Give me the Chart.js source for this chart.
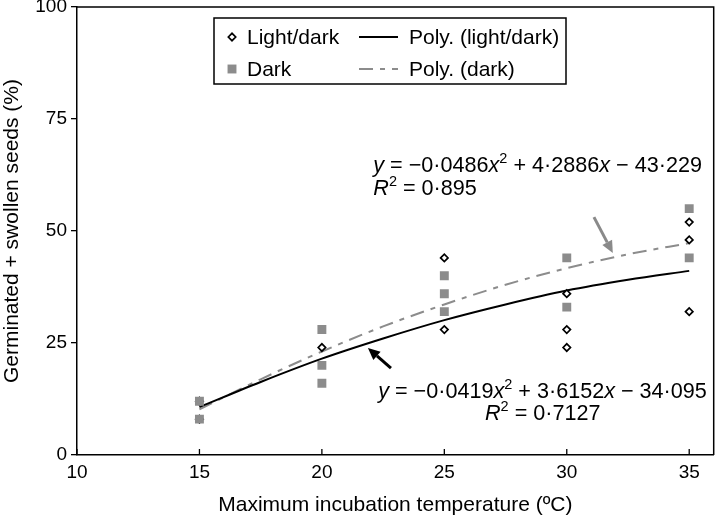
<!DOCTYPE html>
<html>
<head>
    <meta charset="utf-8" />
    <style>
        html, body { margin: 0; padding: 0; background: #fff; }
        #wrap { position: relative; width: 720px; height: 518px; }
    </style>
</head>
<body>
    <div id="wrap"><canvas id="seedChart" width="720" height="518"></canvas></div>

    <script src="https://cdn.jsdelivr.net/npm/chart.js@4.4.1/dist/chart.umd.min.js"></script>
    <script>
        // values
        const xTicks = [10, 15, 20, 25, 30, 35];
        const yTicks = [0, 25, 50, 75, 100];

        const lightDarkTemp = [15, 15, 20, 25, 25, 30, 30, 30, 35, 35, 35];
        const lightDarkPct = [12, 8, 24, 44, 28, 36, 28, 24, 52, 48, 32];

        const darkTemp = [15, 15, 20, 20, 20, 25, 25, 25, 30, 30, 35, 35];
        const darkPct = [12, 8, 28, 20, 16, 40, 36, 32, 44, 33, 55, 44];

        // trend lines, read at regular temperatures
        const fitTemp = [15, 17.5, 20, 22.5, 25, 27.5, 30, 32.5, 35];
        const fitLightDark = [10.7, 16.3, 21.5, 26.0, 30.1, 33.6, 36.7, 39.1, 41.1];
        const fitDark = [10.2, 16.9, 23.1, 28.7, 33.6, 38.0, 41.7, 44.8, 47.3];

        const FONT = "'Liberation Sans', Arial, Helvetica, sans-serif";

        function pairs(xs, ys) {
            return xs.map((x, i) => ({ x: x, y: ys[i] }));
        }

        // equations and arrows, anchored in data units
        const notes = [
            { x: 22.1, y: 63.2, runs: [['y', 'i'], [' = \u22120\u00b70486'], ['x', 'i'], ['2', 's'], [' + 4\u00b72886'], ['x', 'i'], [' \u2212 43\u00b7229']] },
            { x: 22.1, y: 58.0, runs: [['R', 'i'], ['2', 's'], [' = 0\u00b7895']] },
            { x: 22.3, y: 12.7, runs: [['y', 'i'], [' = \u22120\u00b70419'], ['x', 'i'], ['2', 's'], [' + 3\u00b76152'], ['x', 'i'], [' \u2212 34\u00b7095']] },
            { x: 26.66, y: 7.8, runs: [['R', 'i'], ['2', 's'], [' = 0\u00b77127']] }
        ];
        const arrows = [
            { x0: 31.11, y0: 53.1, x1: 31.88, y1: 45.1, color: '#8a8a8a' },
            { x0: 22.82, y0: 19.4, x1: 21.88, y1: 23.9, color: '#000' }
        ];

        function drawRuns(ctx, x, y, runs) {
            ctx.textBaseline = 'alphabetic';
            ctx.textAlign = 'left';
            runs.forEach(r => {
                let dy = 0;
                if (r[1] == 'i') ctx.font = 'italic 21.6px ' + FONT;
                else if (r[1] == 's') { ctx.font = '14.5px ' + FONT; dy = -9; }
                else ctx.font = '21.6px ' + FONT;
                ctx.fillText(r[0], x, y + dy);
                x += ctx.measureText(r[0]).width;
            });
        }

        function drawArrow(ctx, x0, y0, x1, y1, color) {
            const ang = Math.atan2(y1 - y0, x1 - x0);
            const head = 12, half = 5.5;
            const bx = x1 - head * Math.cos(ang), by = y1 - head * Math.sin(ang);
            ctx.strokeStyle = color;
            ctx.fillStyle = color;
            ctx.lineWidth = 3;
            ctx.beginPath();
            ctx.moveTo(x0, y0);
            ctx.lineTo(bx, by);
            ctx.stroke();
            ctx.beginPath();
            ctx.moveTo(x1, y1);
            ctx.lineTo(bx + half * Math.sin(ang), by - half * Math.cos(ang));
            ctx.lineTo(bx - half * Math.sin(ang), by + half * Math.cos(ang));
            ctx.closePath();
            ctx.fill();
        }

        const extras = {
            id: 'extras',
            afterDraw(chart) {
                const ctx = chart.ctx;
                const xs = chart.scales.x, ys = chart.scales.y;
                const a = chart.chartArea;
                ctx.save();

                // frame top / right
                ctx.strokeStyle = '#000';
                ctx.lineWidth = 1.5;
                ctx.beginPath();
                ctx.moveTo(a.left, a.top);
                ctx.lineTo(a.right, a.top);
                ctx.lineTo(a.right, a.bottom);
                ctx.stroke();

                // inward x ticks
                ctx.lineWidth = 1.3;
                xTicks.forEach(t => {
                    const px = xs.getPixelForValue(t);
                    ctx.beginPath();
                    ctx.moveTo(px, a.bottom);
                    ctx.lineTo(px, a.bottom - 6);
                    ctx.stroke();
                });

                ctx.fillStyle = '#000';
                notes.forEach(n => drawRuns(ctx, xs.getPixelForValue(n.x), ys.getPixelForValue(n.y), n.runs));
                arrows.forEach(r => drawArrow(ctx,
                    xs.getPixelForValue(r.x0), ys.getPixelForValue(r.y0),
                    xs.getPixelForValue(r.x1), ys.getPixelForValue(r.y1), r.color));

                // legend box
                const lx = a.left + 137, ly = a.top + 11, lw = 352, lh = 66;
                ctx.fillStyle = '#fff';
                ctx.fillRect(lx, ly, lw, lh);
                ctx.strokeStyle = '#000';
                ctx.lineWidth = 1.5;
                ctx.strokeRect(lx, ly, lw, lh);

                const ds = chart.data.datasets;
                const rows = [
                    { pt: ds[1], line: ds[2], y: ly + 19 },
                    { pt: ds[0], line: ds[3], y: ly + 51 }
                ];
                ctx.font = '21px ' + FONT;
                ctx.textBaseline = 'middle';
                ctx.textAlign = 'left';
                rows.forEach(r => {
                    ctx.fillStyle = r.pt.backgroundColor;
                    ctx.strokeStyle = r.pt.borderColor;
                    ctx.lineWidth = r.pt.borderWidth;
                    Chart.helpers.drawPoint(ctx, {
                        pointStyle: r.pt.pointStyle,
                        radius: r.pt.pointRadius,
                        borderWidth: r.pt.borderWidth
                    }, lx + 18, r.y);
                    ctx.fillStyle = '#000';
                    ctx.fillText(r.pt.label, lx + 33, r.y + 1);

                    ctx.save();
                    ctx.strokeStyle = r.line.borderColor;
                    ctx.lineWidth = r.line.borderWidth;
                    ctx.setLineDash(r.line.borderDash || []);
                    ctx.beginPath();
                    ctx.moveTo(lx + 145, r.y);
                    ctx.lineTo(lx + 184, r.y);
                    ctx.stroke();
                    ctx.restore();
                    ctx.fillStyle = '#000';
                    ctx.fillText(r.line.label, lx + 195, r.y + 1);
                });
                ctx.restore();
            }
        };

        let ctx = document.getElementById('seedChart');
        let seedChart = new Chart(ctx, {
            type: 'scatter',
            data: {
                datasets: [{
                    label: 'Dark',
                    data: pairs(darkTemp, darkPct),
                    pointStyle: 'rect',
                    pointRadius: 6.3,
                    backgroundColor: '#8c8c8c',
                    borderColor: '#8c8c8c',
                    borderWidth: 0,
                    order: 0
                }, {
                    label: 'Light/dark',
                    data: pairs(lightDarkTemp, lightDarkPct),
                    pointStyle: 'rectRot',
                    pointRadius: 3.7,
                    backgroundColor: '#fff',
                    borderColor: '#000',
                    borderWidth: 1.7,
                    order: 1
                }, {
                    label: 'Poly. (light/dark)',
                    data: pairs(fitTemp, fitLightDark),
                    showLine: true,
                    pointRadius: 0,
                    borderColor: '#000',
                    borderWidth: 2,
                    cubicInterpolationMode: 'monotone',
                    order: 2
                }, {
                    label: 'Poly. (dark)',
                    data: pairs(fitTemp, fitDark),
                    showLine: true,
                    pointRadius: 0,
                    borderColor: '#8c8c8c',
                    borderWidth: 2,
                    borderDash: [14, 7, 5, 7],
                    cubicInterpolationMode: 'monotone',
                    order: 3
                }]
            },
            options: {
                responsive: false,
                animation: false,
                layout: { padding: { left: 0, right: 2, top: 7, bottom: 0 } },
                plugins: {
                    legend: { display: false },
                    tooltip: { enabled: false }
                },
                scales: {
                    x: {
                        type: 'linear',
                        min: 10,
                        max: 36,
                        afterBuildTicks: s => { s.ticks = xTicks.map(v => ({ value: v })); },
                        afterFit: s => { s.height = 63; s.paddingLeft = 0; s.paddingRight = 0; },
                        border: { color: '#000', width: 1.5 },
                        grid: { drawOnChartArea: false, drawTicks: false },
                        ticks: { color: '#000', padding: 6, font: { size: 19, family: FONT } },
                        title: {
                            display: true,
                            text: 'Maximum incubation temperature (\u00baC)',
                            color: '#000',
                            padding: { top: 0, bottom: 0 },
                            font: { size: 21, family: FONT }
                        }
                    },
                    y: {
                        min: 0,
                        max: 100,
                        afterBuildTicks: s => { s.ticks = yTicks.map(v => ({ value: v })); },
                        afterFit: s => { s.width = 77; s.paddingTop = 0; s.paddingBottom = 0; },
                        border: { color: '#000', width: 1.5 },
                        grid: { drawOnChartArea: false, drawTicks: true, tickLength: 6, color: '#000', lineWidth: 1.3 },
                        ticks: { color: '#000', padding: 4, font: { size: 19, family: FONT } },
                        title: {
                            display: true,
                            text: 'Germinated + swollen seeds (%)',
                            color: '#000',
                            padding: { top: 0, bottom: 0 },
                            font: { size: 21, family: FONT }
                        }
                    }
                }
            },
            plugins: [extras]
        });
    </script>
</body>
</html>
